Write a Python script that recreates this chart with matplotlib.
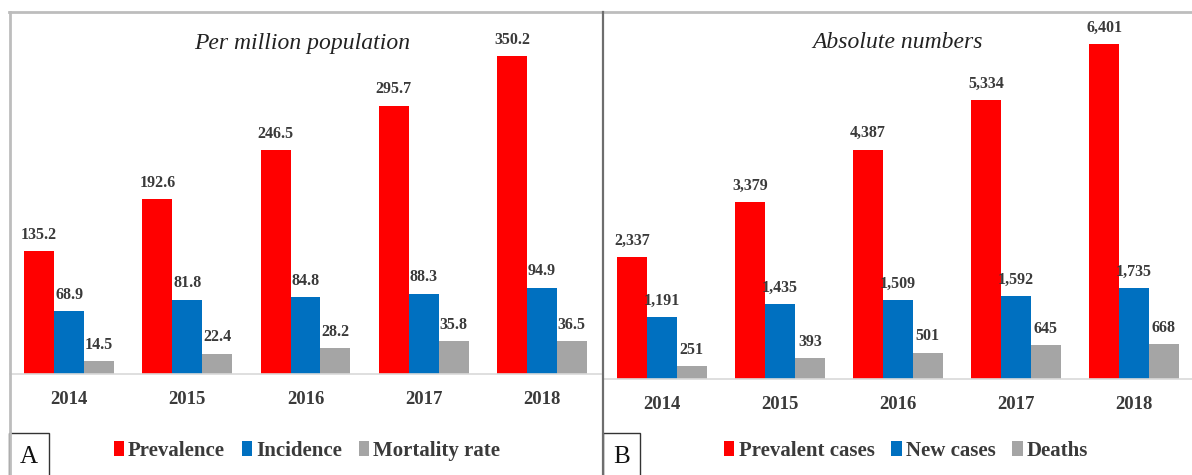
import matplotlib
matplotlib.use("Agg")
import matplotlib.pyplot as plt
from matplotlib.patches import Rectangle
from matplotlib.lines import Line2D
import numpy as np

years = ["2014", "2015", "2016", "2017", "2018"]

prevalence = [135.2, 192.6, 246.5, 295.7, 350.2]
incidence = [68.9, 81.8, 84.8, 88.3, 94.9]
mortality = [14.5, 22.4, 28.2, 35.8, 36.5]

prevalent_cases = [2337, 3379, 4387, 5334, 6401]
new_cases = [1191, 1435, 1509, 1592, 1735]
deaths = [251, 393, 501, 645, 668]

labels_a = ["Prevalence", "Incidence", "Mortality rate"]
labels_b = ["Prevalent cases", "New cases", "Deaths"]

RED = "#FF0000"
BLUE = "#0070C0"
GRAY = "#A5A5A5"
TEXT = "#3A3A3A"
SERIF = "Liberation Serif"

W, H = 1192, 475
fig = plt.figure(figsize=(W / 100, H / 100), dpi=100)
fig.patch.set_facecolor("white")


def px_axes(left, top, right, bottom):
    return fig.add_axes([left / W, 1 - bottom / H, (right - left) / W, (bottom - top) / H])


def draw_panel(ax, series, ymax, fmt):
    x = np.arange(len(years))
    w = 0.253
    colors = [RED, BLUE, GRAY]
    for i, (vals, c) in enumerate(zip(series, colors)):
        pos = x + (i - 1) * w
        bars = ax.bar(pos, vals, width=w, color=c, edgecolor="none")
        for b, v in zip(bars, vals):
            ax.annotate(fmt(v), (b.get_x() + b.get_width() / 2, v),
                        xytext=(0, 6), textcoords="offset points",
                        ha="center", va="bottom", fontsize=11.5,
                        fontweight="bold", family=SERIF, color=TEXT)
    ax.set_xlim(-0.5, len(years) - 0.5)
    ax.set_ylim(0, ymax)
    ax.set_xticks(x)
    ax.set_xticklabels(years, fontsize=13.5, fontweight="bold", family=SERIF, color=TEXT)
    ax.tick_params(axis="x", length=0, pad=12)
    ax.set_yticks([])
    for s in ["top", "right", "left"]:
        ax.spines[s].set_visible(False)
    ax.spines["bottom"].set_color("#D9D9D9")
    ax.spines["bottom"].set_linewidth(1.2)
    ax.set_facecolor("none")
    return ax


# panel A: per million population
ax_a = px_axes(10, 20, 601, 374)
draw_panel(ax_a, [prevalence, incidence, mortality], (374 - 20) / 0.908,
           lambda v: f"{v:.1f}")
fig.text(302 / W, 1 - 43 / H, "Per million population", ha="center", va="center",
         fontsize=17, style="italic", family=SERIF, color="#222222")

# panel B: absolute numbers
ax_b = px_axes(603, 20, 1193, 379)
draw_panel(ax_b, [prevalent_cases, new_cases, deaths], (379 - 20) / 0.0523,
           lambda v: f"{v:,}")
fig.text(898 / W, 1 - 43 / H, "Absolute numbers", ha="center", va="center",
         fontsize=17, style="italic", family=SERIF, color="#222222")

# outer frame and panel divider
fig.add_artist(Line2D([9 / W, 1], [1 - 11.5 / H, 1 - 11.5 / H], transform=fig.transFigure,
                      color="#BDBDBD", linewidth=2.0))
fig.add_artist(Line2D([10 / W, 10 / W], [0, 1 - 11.5 / H], transform=fig.transFigure,
                      color="#BDBDBD", linewidth=2.0))
fig.add_artist(Line2D([603 / W, 603 / W], [0, 1 - 12 / H], transform=fig.transFigure,
                      color="#6E6E6E", linewidth=1.6))

# panel letter boxes
for x0, x1, letter in [(9, 49, "A"), (603, 640, "B")]:
    fig.add_artist(Rectangle((x0 / W, -0.01), (x1 - x0) / W, (475 - 433) / H + 0.01,
                             transform=fig.transFigure, facecolor="none",
                             edgecolor="#333333", linewidth=1.0))
    fig.text((x0 + x1) / 2 / W, 1 - 457 / H, letter, ha="center", va="center",
             fontsize=18, family=SERIF, color="#111111")


def add_legend(labels, cx):
    handles = [Rectangle((0, 0), 1, 1, facecolor=c, edgecolor="none")
               for c in [RED, BLUE, GRAY]]
    fig.legend(handles, labels, loc="center", bbox_to_anchor=(cx / W, 1 - 451 / H),
               ncol=3, frameon=False, handlelength=0.5, handleheight=0.7,
               handletextpad=0.2, columnspacing=0.8,
               prop={"family": SERIF, "weight": "bold", "size": 15},
               labelcolor=TEXT)


add_legend(labels_a, 307)
add_legend(labels_b, 906)

fig.savefig("out.png", dpi=100, facecolor="white")
